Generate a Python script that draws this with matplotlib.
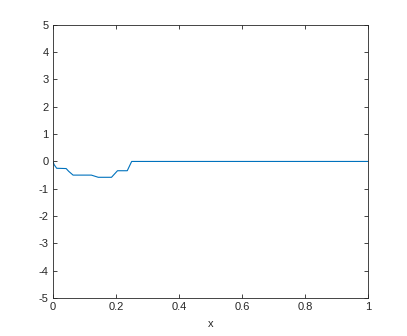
import numpy as np
import matplotlib
matplotlib.use('Agg')
import matplotlib.pyplot as plt

plt.rcParams['font.family'] = ['Liberation Sans', 'DejaVu Sans']

# step-like trace
x_vals = [0.0, 0.004, 0.012, 0.042, 0.05, 0.064, 0.122, 0.144, 0.186, 0.205, 0.236, 0.25, 1.0]
y_vals = [0.0, -0.12, -0.25, -0.26, -0.36, -0.5, -0.5, -0.58, -0.58, -0.34, -0.34, 0.0, 0.0]

x_ticks = [0, 0.2, 0.4, 0.6, 0.8, 1]
x_ticklabels = ['0', '0.2', '0.4', '0.6', '0.8', '1']
y_ticks = list(range(-5, 6))

fig = plt.figure(figsize=(4.07, 3.36), dpi=100)
ax = fig.add_axes([0.130, 0.113, 0.774, 0.813])

ax.plot(x_vals, y_vals, color='#0072BD', linewidth=0.8)

ax.set_xlim(0, 1)
ax.set_ylim(-5, 5)
ax.set_xticks(x_ticks)
ax.set_xticklabels(x_ticklabels)
ax.set_yticks(y_ticks)
ax.set_yticklabels([str(v) for v in y_ticks])

ax.tick_params(direction='in', top=True, right=True, length=3, width=0.6,
               colors='#262626', labelsize=8, pad=3)
for s in ax.spines.values():
    s.set_color('#262626')
    s.set_linewidth(0.6)

ax.set_xlabel('x', fontsize=8, color='#262626', labelpad=5)

plt.savefig('out.png', dpi=100)
plt.close()
